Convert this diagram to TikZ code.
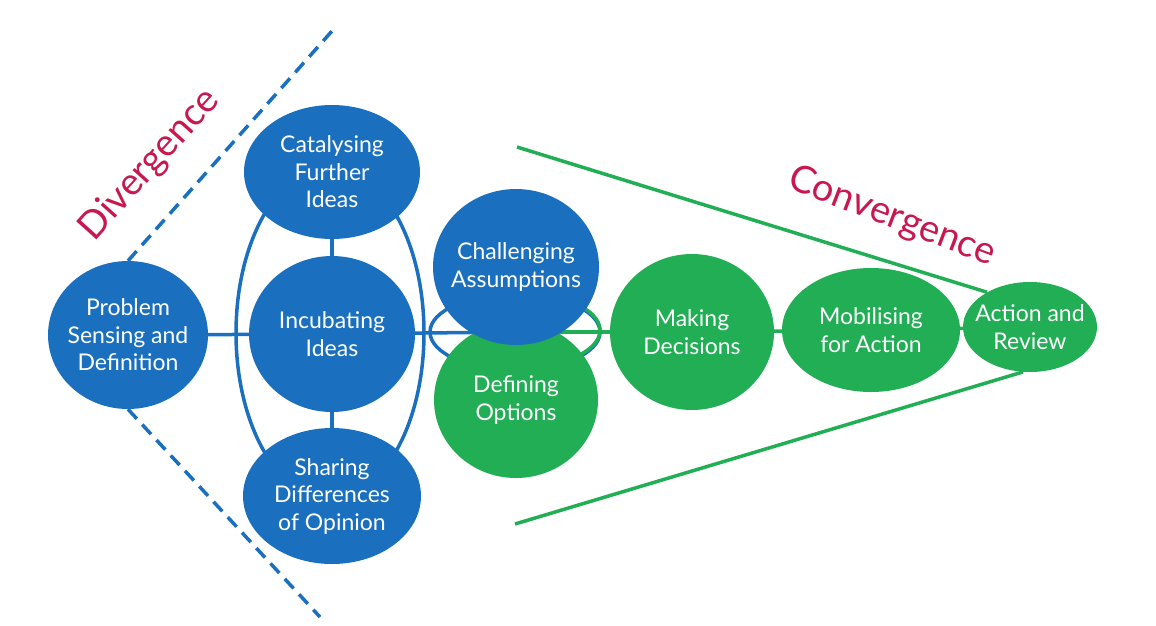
\documentclass[tikz,border=0pt]{standalone}
\usepackage{fontspec}
\setmainfont{Lato}
\usetikzlibrary{shapes.geometric,backgrounds}
\definecolor{ideablue}{HTML}{1A70BE}
\definecolor{ideagreen}{HTML}{22AE55}
\definecolor{ideared}{HTML}{C8184F}

\begin{document}
\begin{tikzpicture}[x=1pt,y=-1pt,
  bubble/.style={ellipse,inner sep=-16pt,text=white,align=center,font=\fontsize{23}{27.5}\selectfont},
  bluebubble/.style={bubble,fill=ideablue},
  greenbubble/.style={bubble,fill=ideagreen},
  blueline/.style={draw=ideablue,line width=3.5pt},
  greenline/.style={draw=ideagreen,line width=3.5pt},
  phase/.style={text=ideared,font=\fontsize{38}{44}\selectfont}]
\useasboundingbox (0,0) rectangle (1156,625);
\node[ellipse,blueline,minimum width=188pt,minimum height=332pt] (outer) at (330,333) {};
\node[ellipse,blueline,minimum width=170pt,minimum height=76pt] (inner) at (515,332) {};
\draw[greenline] (inner.north) arc[start angle=-90,end angle=90,x radius=85,y radius=38];
\node[bluebubble,minimum width=160pt,minimum height=148pt] (problem) at (128,335) {Problem\\Sensing and\\Definition};
\node[bluebubble,minimum width=176pt,minimum height=134pt] (catalyse) at (332,172) {Catalysing\\Further\\Ideas};
\node[bluebubble,minimum width=166pt,minimum height=156pt] (incubate) at (332,334) {Incubating\\Ideas};
\node[bluebubble,minimum width=178pt,minimum height=136pt] (share) at (332,496) {Sharing\\Differences\\of Opinion};
\node[greenbubble,minimum width=164pt,minimum height=156pt] (define) at (516,400) {Defining\\Options};
\node[bluebubble,minimum width=166pt,minimum height=156pt] (challenge) at (516,267) {Challenging\\Assumptions};
\node[greenbubble,minimum width=164pt,minimum height=156pt] (decide) at (692,332) {Making\\Decisions};
\node[greenbubble,minimum width=178pt,minimum height=124pt] (mobilise) at (871,330) {Mobilising\\for Action};
\node[greenbubble,minimum width=134pt,minimum height=90pt] (act) at (1030,327) {Action and\\Review};
\begin{scope}[on background layer]
\draw[blueline] (incubate) -- (inner.center);
\draw[greenline] (inner.center) -- (decide);
\end{scope}
\draw[blueline] (problem) -- (incubate);
\draw[blueline] (catalyse) -- (incubate);
\draw[blueline] (incubate) -- (share);
\draw[greenline] (decide) -- (mobilise);
\draw[greenline] (mobilise) -- (act);
\coordinate (convtop) at (517,147);
\coordinate (convbot) at (515,524);
\draw[greenline] (convtop) -- (act.141);
\draw[greenline] (convbot) -- (act.261);
\coordinate (divtop) at (332,31);
\coordinate (divbot) at (320,617);
\draw[blueline,dash pattern=on 13pt off 8pt] (problem.north) -- (divtop);
\draw[blueline,dash pattern=on 13pt off 8pt] (problem.south) -- (divbot);
\node[phase,rotate=48] (diverge) at (150,165) {Divergence};
\node[phase,rotate=-21] (converge) at (892,217) {Convergence};
\end{tikzpicture}
\end{document}
